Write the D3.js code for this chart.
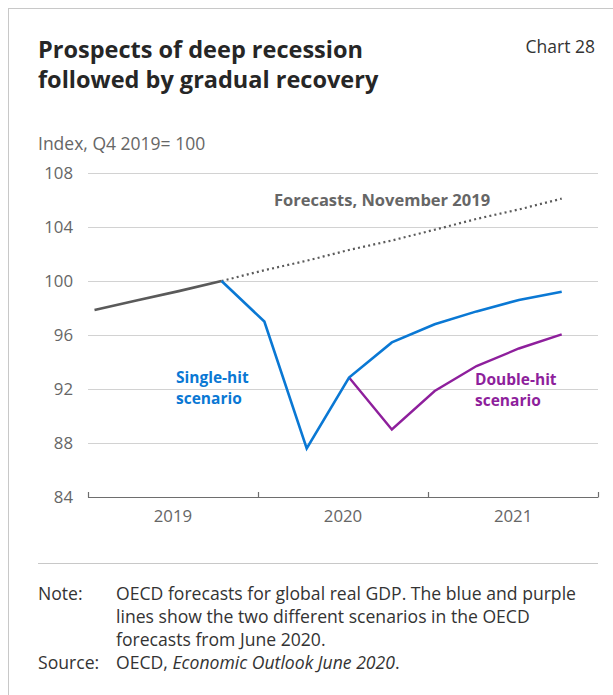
<!DOCTYPE html>
<html>
<head>
<meta charset="utf-8">
<script src="https://cdn.jsdelivr.net/npm/d3@7"></script>
<style>
  html, body { margin: 0; padding: 0; background: #fff; }
  svg { display: block; }
  text { font-family: "Open Sans", "Noto Sans", sans-serif; }
</style>
</head>
<body>
<svg id="chart" width="613" height="695"></svg>
<script>
// ---- data ----
const quarters = ["2019-01-15","2019-04-15","2019-07-15","2019-10-15",
                  "2020-01-15","2020-04-15","2020-07-15","2020-10-15",
                  "2021-01-15","2021-04-15","2021-07-15","2021-10-15"];
const historyValues   = [97.85, 98.55, 99.25, 100.0, null, null, null, null, null, null, null, null];
const forecastNov2019 = [null, null, null, 100.0, 100.8, 101.5, 102.3, 103.0, 103.8, 104.6, 105.3, 106.1];
const singleHit       = [null, null, null, 100.0, 97.0, 87.6, 92.85, 95.45, 96.8, 97.75, 98.6, 99.2];
const doubleHit       = [null, null, null, null, null, null, 92.85, 89.0, 91.85, 93.7, 95.0, 96.05];
const yTicks = [84, 88, 92, 96, 100, 104, 108];
const yearLabels = ["2019", "2020", "2021"];
const yearBounds = ["2019-01-01", "2020-01-01", "2021-01-01", "2022-01-01"];

// ---- layout ----
const svg = d3.select("#chart");
const parse = d3.timeParse("%Y-%m-%d");
const dates = quarters.map(parse);
const bounds = yearBounds.map(parse);

const x = d3.scaleTime().domain([bounds[0], bounds[3]]).range([88, 598]);
const y = d3.scaleLinear().domain([84, 108]).range([497, 173]);

const grey = "#5a5a5a", textGrey = "#666666", blue = "#0a78d4", purple = "#8e1f9c";

// frame
svg.append("line").attr("x1", 8.5).attr("x2", 8.5).attr("y1", 8).attr("y2", 695).attr("stroke", "#c8c8c8");
svg.append("line").attr("x1", 8).attr("x2", 613).attr("y1", 8.5).attr("y2", 8.5).attr("stroke", "#c8c8c8");

// titles
const title = svg.append("text").attr("x", 38).attr("font-size", 23.5).attr("font-weight", 700).attr("fill", "#262626");
title.append("tspan").attr("x", 38).attr("y", 58).text("Prospects of deep recession");
title.append("tspan").attr("x", 38).attr("y", 88).text("followed by gradual recovery");
svg.append("text").attr("x", 595).attr("y", 53).attr("text-anchor", "end")
  .attr("font-size", 17.5).attr("fill", "#333").text("Chart 28");
svg.append("text").attr("x", 38).attr("y", 150).attr("font-size", 17.5).attr("fill", textGrey)
  .text("Index, Q4 2019= 100");

// gridlines
svg.append("g").selectAll("line").data(yTicks.filter(d => d > 84)).join("line")
  .attr("x1", 88).attr("x2", 598)
  .attr("y1", d => y(d) + 0.5).attr("y2", d => y(d) + 0.5)
  .attr("stroke", "#d2d2d2").attr("stroke-width", 1);

// y labels
svg.append("g").selectAll("text").data(yTicks).join("text")
  .attr("x", 73).attr("y", d => y(d) + 6).attr("text-anchor", "end")
  .attr("font-size", 16.8).attr("fill", textGrey).text(d => d);

// x axis
svg.append("line").attr("x1", 88).attr("x2", 598).attr("y1", 497.5).attr("y2", 497.5)
  .attr("stroke", "#6e6e6e").attr("stroke-width", 1.2);
svg.append("g").selectAll("line").data(bounds).join("line")
  .attr("x1", d => Math.round(x(d)) + 0.5).attr("x2", d => Math.round(x(d)) + 0.5)
  .attr("y1", 492).attr("y2", 497.5).attr("stroke", "#6e6e6e").attr("stroke-width", 1.2);
svg.append("g").selectAll("text").data(yearLabels).join("text")
  .attr("x", (d, i) => (x(bounds[i]) + x(bounds[i + 1])) / 2)
  .attr("y", 522).attr("text-anchor", "middle")
  .attr("font-size", 16.8).attr("fill", textGrey).text(d => d);

// lines
const line = d3.line().defined(d => d[1] != null).x(d => x(d[0])).y(d => y(d[1]));
const pairs = arr => dates.map((d, i) => [d, arr[i]]);

svg.append("path").datum(pairs(forecastNov2019)).attr("d", line)
  .attr("fill", "none").attr("stroke", grey).attr("stroke-width", 2.2)
  .attr("stroke-dasharray", "2,3.2");
svg.append("path").datum(pairs(historyValues)).attr("d", line)
  .attr("fill", "none").attr("stroke", grey).attr("stroke-width", 2.6);
svg.append("path").datum(pairs(doubleHit)).attr("d", line)
  .attr("fill", "none").attr("stroke", purple).attr("stroke-width", 2.4).attr("stroke-linejoin", "miter");
svg.append("path").datum(pairs(singleHit)).attr("d", line)
  .attr("fill", "none").attr("stroke", blue).attr("stroke-width", 2.6).attr("stroke-linejoin", "miter");

// annotations
svg.append("text").attr("x", 382).attr("y", 206).attr("text-anchor", "middle")
  .attr("font-size", 16.5).attr("font-weight", 700).attr("fill", textGrey).text("Forecasts, November 2019");
const s1 = svg.append("text").attr("font-size", 15.5).attr("font-weight", 700).attr("fill", blue);
s1.append("tspan").attr("x", 176).attr("y", 383).text("Single-hit");
s1.append("tspan").attr("x", 176).attr("y", 404).text("scenario");
const s2 = svg.append("text").attr("font-size", 15.5).attr("font-weight", 700).attr("fill", purple);
s2.append("tspan").attr("x", 475).attr("y", 385).text("Double-hit");
s2.append("tspan").attr("x", 475).attr("y", 406).text("scenario");

// separator + notes
svg.append("line").attr("x1", 38).attr("x2", 598).attr("y1", 563.5).attr("y2", 563.5).attr("stroke", "#c8c8c8");
const noteFs = 17.6, noteCol = "#333";
svg.append("text").attr("x", 38).attr("y", 600).attr("font-size", noteFs).attr("fill", noteCol).text("Note:");
const noteLines = ["OECD forecasts for global real GDP. The blue and purple",
                   "lines show the two different scenarios in the OECD",
                   "forecasts from June 2020."];
svg.append("g").selectAll("text").data(noteLines).join("text")
  .attr("x", 116).attr("y", (d, i) => 600 + i * 23)
  .attr("font-size", noteFs).attr("fill", noteCol).text(d => d);
svg.append("text").attr("x", 38).attr("y", 669).attr("font-size", noteFs).attr("fill", noteCol).text("Source:");
const src = svg.append("text").attr("x", 116).attr("y", 669).attr("font-size", noteFs).attr("fill", noteCol);
src.append("tspan").text("OECD, ");
src.append("tspan").attr("font-style", "italic").text("Economic Outlook June 2020");
src.append("tspan").text(".");
</script>
</body>
</html>
